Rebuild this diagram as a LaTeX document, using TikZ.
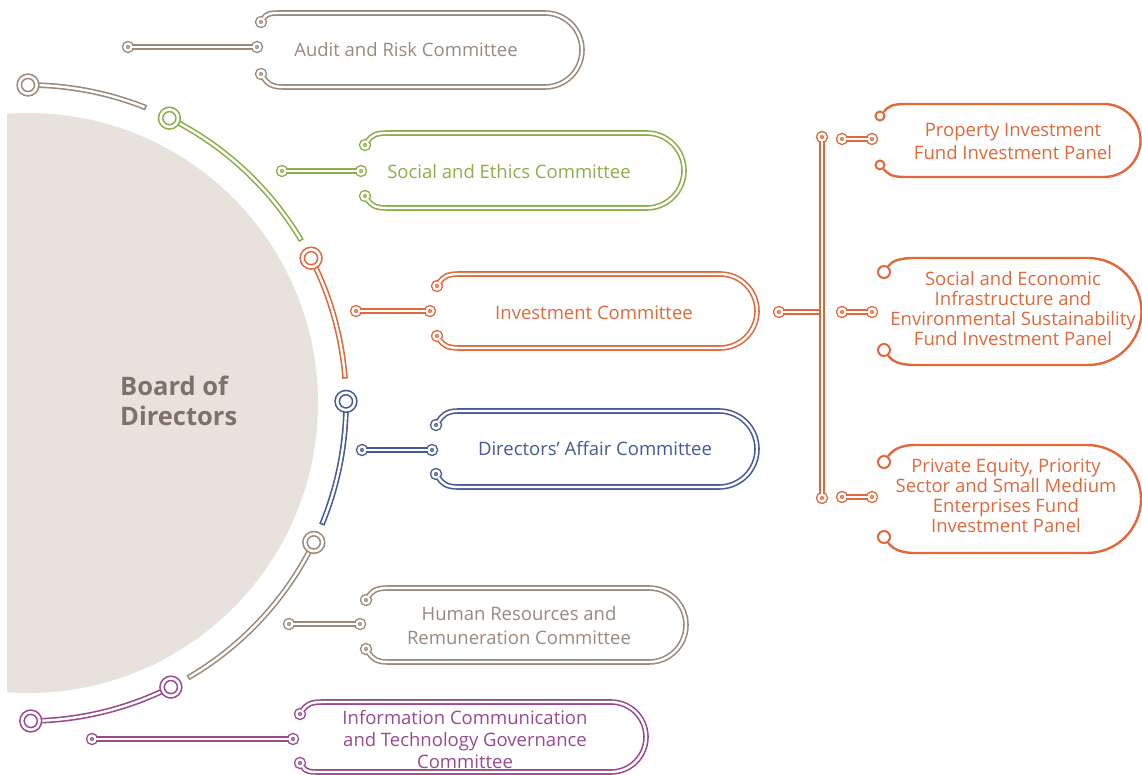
\documentclass[tikz,border=0pt]{standalone}
\usepackage{fontspec}
\setmainfont{Open Sans}
\usetikzlibrary{calc}

\definecolor{brn}{HTML}{9A897D}
\definecolor{grn}{HTML}{8AAE48}
\definecolor{org}{HTML}{E0683A}
\definecolor{blu}{HTML}{475898}
\definecolor{prp}{HTML}{984A8C}
\definecolor{discfill}{HTML}{E7E3DC}
\definecolor{boardtxt}{HTML}{7E7268}

\tikzset{
  dl/.style={line width=1.6pt,double=white,double distance=2.4pt},
  via/.style={circle,draw,fill=white,inner sep=0pt,minimum size=6.9pt,line width=1.4pt,double=white,double distance=2.4pt},
  hub/.style={circle,draw,fill=white,inner sep=0pt,minimum size=17.5pt,line width=1.6pt,double=white,double distance=2.6pt},
  ring/.style={circle,draw,fill=white,inner sep=0pt,line width=2pt},
  panel/.style={line width=2.4pt},
  lbl/.style={font=\fontsize{18.5}{20}\selectfont,align=center,inner sep=0pt},
}

\begin{document}
\begin{tikzpicture}[x=1pt,y=-1pt]
  \useasboundingbox (0,0) rectangle (1142,775);
  \coordinate (C) at (28,403);

  % board disc
  \begin{scope}
    \clip (7,0) rectangle (400,775);
    \fill[discfill] (C) circle (290);
  \end{scope}
  \node[font=\bfseries\fontsize{25.5}{30}\selectfont,text=boardtxt,align=left,anchor=west,inner sep=0pt] (board) at (120,401) {Board of\\Directors};

  % outer ring of arcs
  \coordinate (c1) at ($(C)+(-90:318)$);
  \coordinate (c2) at ($(C)+(-63.6:318)$);
  \coordinate (c3) at ($(C)+(-27.1:318)$);
  \coordinate (c4) at ($(C)+(-0.3:318)$);
  \coordinate (c5) at ($(C)+(26:318)$);
  \coordinate (c6) at ($(C)+(63.3:318)$);
  \coordinate (c7) at ($(C)+(89.5:318)$);
  \begin{scope}[line cap=rect]
    \draw[dl,brn] (c1) arc[start angle=-90,end angle=-68.7,radius=318];
    \draw[dl,grn] (c2) arc[start angle=-63.6,end angle=-31.2,radius=318];
    \draw[dl,org] (c3) arc[start angle=-27.1,end angle=-4.9,radius=318];
    \draw[dl,blu] (c4) arc[start angle=-0.3,end angle=22,radius=318];
    \draw[dl,brn] (c5) arc[start angle=26,end angle=59.3,radius=318];
    \draw[dl,prp] (c6) arc[start angle=63.3,end angle=89.5,radius=318];
  \end{scope}
  \begin{scope}[every node/.style=hub]
    \node[draw=brn] (h1) at (c1) {};
    \node[draw=grn] (h2) at (c2) {};
    \node[draw=org] (h3) at (c3) {};
    \node[draw=blu] (h4) at (c4) {};
    \node[draw=brn] (h5) at (c5) {};
    \node[draw=prp] (h6) at (c6) {};
    \node[draw=prp] (h7) at (c7) {};
  \end{scope}

  % committees
  \node[lbl,brn] (aud) at (406,50) {Audit and Risk Committee};
  \node[lbl,grn] (soc) at (509,172) {Social and Ethics Committee};
  \node[lbl,org] (inv) at (594,313) {Investment Committee};
  \node[lbl,blu] (dir) at (595,449) {Directors’ Affair Committee};
  \node[lbl,brn,font=\fontsize{18.5}{24}\selectfont] (hrc) at (519,626) {Human Resources and\\Remuneration Committee};
  \node[lbl,prp,font=\fontsize{18.5}{22}\selectfont] (ict) at (465,740) {Information Communication\\and Technology Governance\\Committee};

  \begin{scope}[every node/.style=via]
    \node[draw=brn] (aud-s) at (128,47) {};
    \node[draw=brn] (aud-m) at (257,47) {};
    \node[draw=brn] (aud-t) at (261,22) {};
    \node[draw=brn] (aud-b) at (261,74) {};
    \node[draw=grn] (soc-s) at (282,171) {};
    \node[draw=grn] (soc-m) at (361,171) {};
    \node[draw=grn] (soc-t) at (365,145) {};
    \node[draw=grn] (soc-b) at (365,196) {};
    \node[draw=org] (inv-s) at (356,311) {};
    \node[draw=org] (inv-m) at (430,311) {};
    \node[draw=org] (inv-t) at (437,286) {};
    \node[draw=org] (inv-b) at (437,336) {};
    \node[draw=blu] (dir-s) at (362,450) {};
    \node[draw=blu] (dir-m) at (432,450) {};
    \node[draw=blu] (dir-t) at (436,425) {};
    \node[draw=blu] (dir-b) at (436,474) {};
    \node[draw=brn] (hrc-s) at (289,624) {};
    \node[draw=brn] (hrc-m) at (360,624) {};
    \node[draw=brn] (hrc-t) at (366,600) {};
    \node[draw=brn] (hrc-b) at (366,649) {};
    \node[draw=prp] (ict-s) at (92,739) {};
    \node[draw=prp] (ict-m) at (293,739) {};
    \node[draw=prp] (ict-t) at (300,714) {};
    \node[draw=prp] (ict-b) at (300,763) {};
  \end{scope}

  \draw[dl,brn] (aud-s) -- (aud-m);
  \draw[dl,grn] (soc-s) -- (soc-m);
  \draw[dl,org] (inv-s) -- (inv-m);
  \draw[dl,blu] (dir-s) -- (dir-m);
  \draw[dl,brn] (hrc-s) -- (hrc-m);
  \draw[dl,prp] (ict-s) -- (ict-m);

  \draw[dl,brn] (aud-t) .. controls +(6,-9) and +(-12,0) .. (283,13) -- (545,13)
    arc[start angle=-90,end angle=90,radius=37] -- (283,87) .. controls +(-12,0) and +(6,9) .. (aud-b);
  \draw[dl,grn] (soc-t) .. controls +(6,-9) and +(-12,0) .. (387,133) -- (646.5,133)
    arc[start angle=-90,end angle=90,radius=37.5] -- (387,208) .. controls +(-12,0) and +(6,9) .. (soc-b);
  \draw[dl,org] (inv-t) .. controls +(6,-9) and +(-12,0) .. (459,274) -- (720,274)
    arc[start angle=-90,end angle=90,radius=37] -- (459,348) .. controls +(-12,0) and +(6,9) .. (inv-b);
  \draw[dl,blu] (dir-t) .. controls +(6,-9) and +(-12,0) .. (458,411) -- (719,411)
    arc[start angle=-90,end angle=90,radius=38] -- (458,487) .. controls +(-12,0) and +(6,9) .. (dir-b);
  \draw[dl,brn] (hrc-t) .. controls +(6,-9) and +(-12,0) .. (388,588) -- (649,588)
    arc[start angle=-90,end angle=90,radius=37] -- (388,662) .. controls +(-12,0) and +(6,9) .. (hrc-b);
  \draw[dl,prp] (ict-t) .. controls +(6,-9) and +(-12,0) .. (322,702) -- (611,702)
    arc[start angle=-90,end angle=90,radius=35] -- (322,772) .. controls +(-12,0) and +(6,9) .. (ict-b);

  % investment panels
  \node[lbl,org,font=\fontsize{18.5}{23}\selectfont] (ppp) at (1013,141) {Property Investment\\Fund Investment Panel};
  \node[lbl,org] (sei) at (1013,309) {Social and Economic\\Infrastructure and\\Environmental Sustainability\\Fund Investment Panel};
  \node[lbl,org] (pes) at (1006,496) {Private Equity, Priority\\Sector and Small Medium\\Enterprises Fund\\Investment Panel};

  \begin{scope}[every node/.style=via]
    \node[draw=org] (inv-o) at (779,312) {};
    \node[draw=org] (bus-t) at (822,137) {};
    \node[draw=org] (bus-b) at (822,498) {};
    \node[draw=org] (ppp-l) at (842,139) {};
    \node[draw=org] (ppp-r) at (872,139) {};
    \node[draw=org] (sei-l) at (842,312) {};
    \node[draw=org] (sei-r) at (872,312) {};
    \node[draw=org] (pes-l) at (842,497) {};
    \node[draw=org] (pes-r) at (872,497) {};
  \end{scope}
  \coordinate (jn) at (822,312);
  \draw[dl,org] (inv-o) -- (jn);
  \draw[dl,org] (bus-t) -- (bus-b);
  \draw[dl,org] (ppp-l) -- (ppp-r);
  \draw[dl,org] (sei-l) -- (sei-r);
  \draw[dl,org] (pes-l) -- (pes-r);

  \begin{scope}[every node/.style={ring,draw=org}]
    \node[minimum size=9pt] (ppp-t) at (880,116) {};
    \node[minimum size=9pt] (ppp-b) at (880,165) {};
    \node[minimum size=12pt] (sei-t) at (884,272) {};
    \node[minimum size=12pt] (sei-b) at (884,350) {};
    \node[minimum size=12pt] (pes-t) at (884,462) {};
    \node[minimum size=12pt] (pes-b) at (884,537) {};
  \end{scope}
  \draw[panel,org] (ppp-t) .. controls +(8,-9) and +(-14,0) .. (905,104) -- (1104,104)
    arc[start angle=-90,end angle=90,radius=36.5] -- (905,177) .. controls +(-14,0) and +(8,9) .. (ppp-b);
  \draw[panel,org] (sei-t) .. controls +(8,-11) and +(-16,0) .. (915,258) -- (1088,258)
    arc[start angle=-90,end angle=90,radius=53.5] -- (915,365) .. controls +(-16,0) and +(8,11) .. (sei-b);
  \draw[panel,org] (pes-t) .. controls +(8,-11) and +(-16,0) .. (915,445) -- (1087,445)
    arc[start angle=-90,end angle=90,radius=54] -- (915,553) .. controls +(-16,0) and +(8,11) .. (pes-b);
\end{tikzpicture}
\end{document}
